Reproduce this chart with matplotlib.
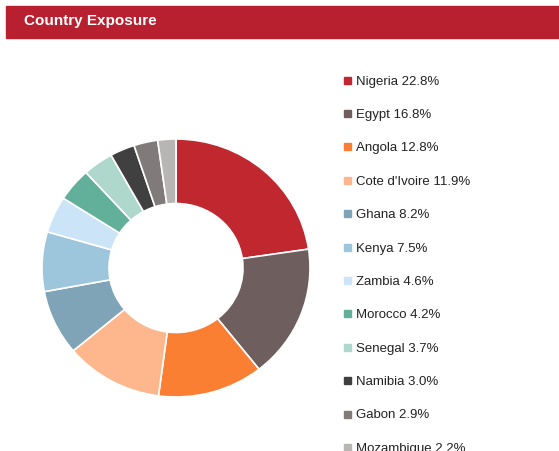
import matplotlib
matplotlib.use('Agg')
import matplotlib.pyplot as plt
from matplotlib.patches import Rectangle

# ── Data ─────────────────────────────────────────────────────────────────────
countries = ['Nigeria', 'Egypt', 'Angola', "Cote d'Ivoire", 'Ghana', 'Kenya',
             'Zambia', 'Morocco', 'Senegal', 'Namibia', 'Gabon', 'Mozambique']
weights   = [22.8, 16.8, 12.8, 11.9, 8.2, 7.5, 4.6, 4.2, 3.7, 3.0, 2.9, 2.2]
colors    = ['#C0272F', '#6E5F5E', '#FB7F33', '#FEB68D', '#7FA3B7', '#9DC5DB',
             '#CCE4F8', '#63B09A', '#AED8CC', '#404040', '#807A7A', '#B8B5B5']

W, H = 559, 451
plt.rcParams['font.family'] = ['Liberation Sans', 'DejaVu Sans']
fig = plt.figure(figsize=(W / 100, H / 100), dpi=100)

# ── Header bar ───────────────────────────────────────────────────────────────
fig.patches.append(Rectangle((6 / W, 1 - 38 / H), 1, 32 / H,
                             transform=fig.transFigure, color='#B8202F', zorder=0))
fig.text(24 / W, 1 - 21 / H, 'Country Exposure', color='white',
         fontsize=11, fontweight='bold', va='center', ha='left')

# ── Donut ────────────────────────────────────────────────────────────────────
cx, cy, rx, ry = 176, 268, 134, 129
ax = fig.add_axes([(cx - rx) / W, 1 - (cy + ry) / H, 2 * rx / W, 2 * ry / H])
ax.pie(weights, colors=colors, startangle=90, counterclock=False, radius=1,
       wedgeprops=dict(width=0.5, edgecolor='white', linewidth=1.2))
ax.set_aspect('auto')
ax.set_xlim(-1, 1)
ax.set_ylim(-1, 1)
ax.axis('off')

# ── Legend ───────────────────────────────────────────────────────────────────
y0, dy = 80, 33.4
for i, (c, w, col) in enumerate(zip(countries, weights, colors)):
    y = y0 + i * dy
    fig.patches.append(Rectangle((344 / W, 1 - (y + 3.5) / H), 7 / W, 7 / H,
                                 transform=fig.transFigure, color=col))
    fig.text(356 / W, 1 - y / H, f'{c} {w:.1f}%', fontsize=9.5,
             va='center_baseline', ha='left', color='#222222')

fig.savefig('out.png', dpi=100)
